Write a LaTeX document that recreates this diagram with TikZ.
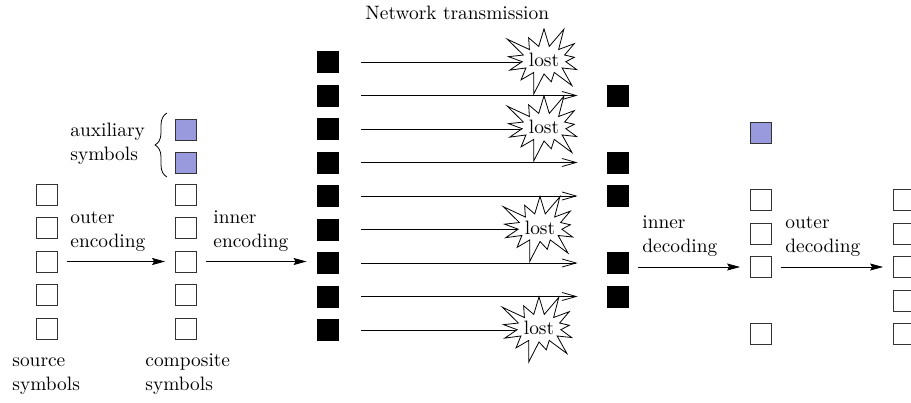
\documentclass[tikz,border=0pt]{standalone}
\usetikzlibrary{arrows.meta,shapes.symbols,decorations.pathreplacing,backgrounds}
\definecolor{auxblue}{RGB}{153,153,221}

\begin{document}
\begin{tikzpicture}[x=0.5pt,y=-0.5pt,font=\fontsize{9.7}{12}\selectfont,
    sym/.style={draw=black!80,fill=white,minimum size=10.5pt,inner sep=0pt},
    auxsym/.style={sym,fill=auxblue},
    pkt/.style={fill=black,minimum size=11pt,inner sep=0pt},
    lbl/.style={align=left,inner sep=0pt},
    lostburst/.style={starburst,draw,fill=white,minimum width=46pt,minimum height=38pt,
        starburst point height=12pt,starburst points=13,inner sep=0pt},
    enc/.style={-{Stealth[length=6.5pt,width=3.5pt,inset=1pt]},shorten <=4.5pt,shorten >=5pt},
    net/.style={-{Straight Barb[length=7pt,width=4pt]},shorten <=11pt,shorten >=14.5pt}]

    \useasboundingbox (0,0) rectangle (911,402);

    % source and composite symbols
    \foreach \i/\y in {1/194.5,2/228,3/261.5,4/295,5/328.5} {
        \node[sym] (src\i) at (47,\y) {};
        \node[sym] (cmp\i) at (186,\y) {};
    }
    \node[auxsym] (aux1) at (186,130) {};
    \node[auxsym] (aux2) at (186,163) {};

    % transmitted and received packets
    \foreach \i in {1,...,9}
        \node[pkt] (tx\i) at (328,{62+33.5*(\i-1)}) {};
    \foreach \i in {2,4,5,7,8}
        \node[pkt] (rx\i) at (618,{62+33.5*(\i-1)}) {};

    % packets lost on the way
    \pgfmathsetseed{7}
    \foreach \i/\x in {1/544,3/544,6/540,9/539}
        \node[lostburst] (lost\i) at (\x,{60+33.5*(\i-1)}) {lost};

    \begin{pgfonlayer}{background}
        \foreach \i in {2,4,5,7,8}
            \draw[net] (tx\i) -- (rx\i);
        \foreach \i in {1,3,6,9}
            \draw[shorten <=11pt] (tx\i) -- (tx\i -| lost\i.center);
    \end{pgfonlayer}

    % decoded symbols
    \node[auxsym] (dec0) at (761,133) {};
    \foreach \i/\y in {1/200,2/233.5,3/267,5/334}
        \node[sym] (dec\i) at (761,\y) {};
    \foreach \i/\y in {1/200,2/233.5,3/267,4/300.5,5/334}
        \node[sym] (out\i) at (904,\y) {};

    % coding steps
    \draw[enc] (src3) -- (cmp3);
    \draw[enc] (cmp3.east) -- (cmp3.east -| tx7.west);
    \draw[enc] (dec3.west -| rx7.east) -- (dec3.west);
    \draw[enc] (dec3) -- (out3);

    \node[lbl,anchor=south west] (outerenc) at (70,252) {outer\\encoding};
    \node[lbl,anchor=south west] (innerenc) at (213,252) {inner\\encoding};
    \node[lbl,anchor=south west] (innerdec) at (642,257) {inner\\decoding};
    \node[lbl,anchor=south west] (outerdec) at (785,257) {outer\\decoding};

    % captions
    \node[lbl,anchor=south west] (auxlbl) at (70,165) {auxiliary\\symbols};
    \draw[decorate,decoration={brace,amplitude=6pt}] (167,177) -- (167,113);
    \node[lbl,anchor=south west] (srclbl) at (12,395) {source\\symbols};
    \node[lbl,anchor=south west] (cmplbl) at (145,395) {composite\\symbols};
    \node[anchor=base west,inner sep=0pt] (netlbl) at (365,19) {Network transmission};
\end{tikzpicture}
\end{document}
